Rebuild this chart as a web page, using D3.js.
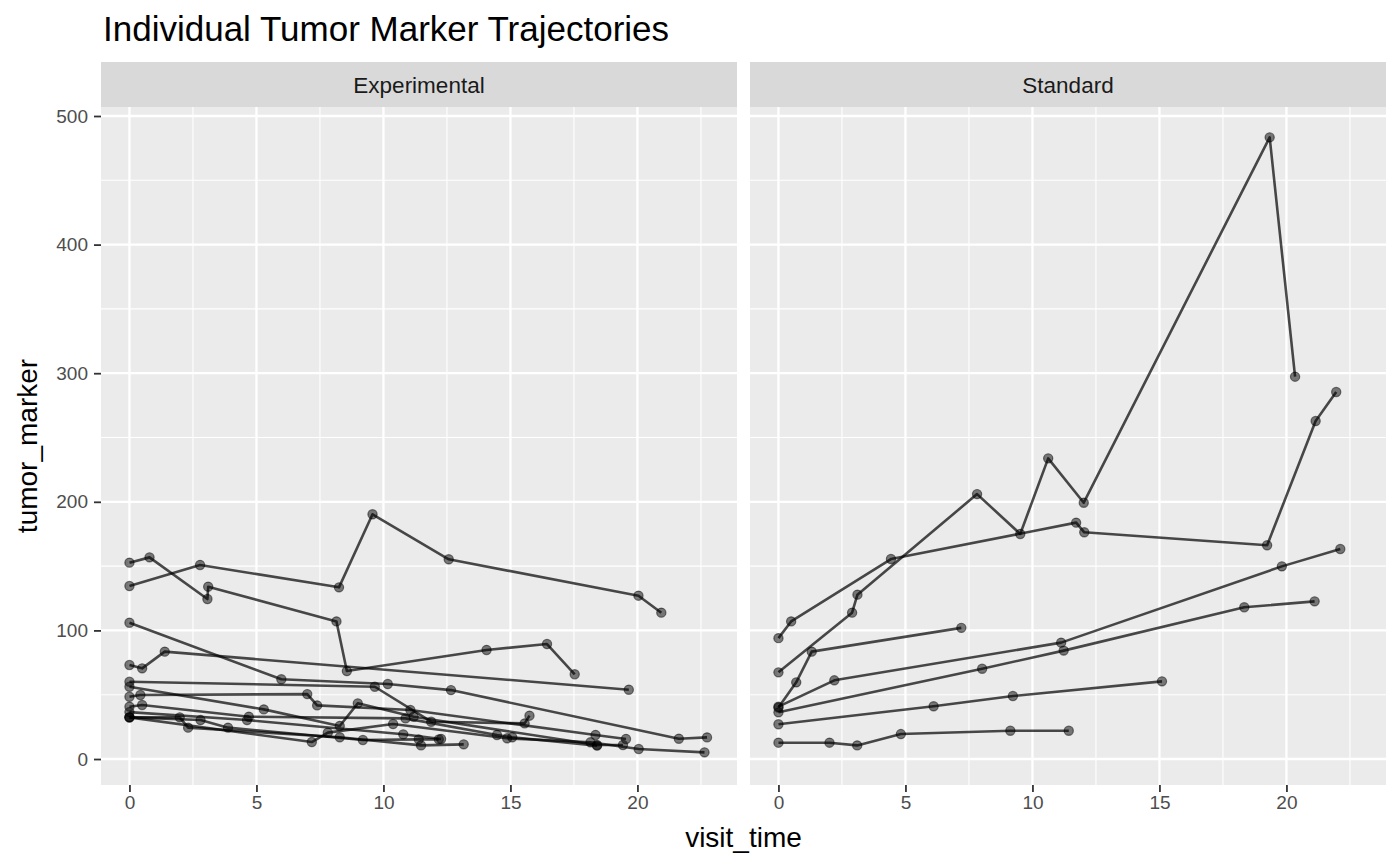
<!DOCTYPE html>
<html>
<head>
<meta charset="utf-8">
<script src="https://cdn.jsdelivr.net/npm/d3@7"></script>
<style>
  html, body { margin: 0; padding: 0; background: #ffffff; }
  svg text { font-family: "Liberation Sans", Arial, Helvetica, sans-serif; }
</style>
</head>
<body>
<svg id="chart" width="1400" height="866"></svg>
<script>
// ---------------- data ----------------
const title = "Individual Tumor Marker Trajectories";
const panels = ["Experimental", "Standard"];
const xTicks = [0, 5, 10, 15, 20];
const yTicks = [0, 100, 200, 300, 400, 500];
const xLabel = "visit_time";
const yLabel = "tumor_marker";

// Experimental arm: visit times and marker values per subject
const expTime = [
  [0, 2.78, 8.25, 9.57, 12.57, 20.04, 20.94],
  [0, 0.79, 3.07, 3.1, 8.15, 8.56, 14.06, 16.44, 17.53],
  [0, 5.98, 10.17, 12.66, 21.63, 22.74],
  [0, 0.5, 1.39, 19.66],
  [0, 9.66, 11.88, 15.56, 15.75],
  [0, 0.43, 7.0, 7.39, 11.06, 18.35, 19.55],
  [0, 5.29, 8.28, 8.99, 11.19, 18.41, 19.43],
  [0, 7.18, 7.81, 10.38, 14.87, 18.15, 20.05, 22.64],
  [0, 0.5, 4.7, 10.87, 14.47, 15.07, 18.41],
  [0, 1.98, 2.31, 8.28, 11.48, 13.16],
  [0, 2.8, 3.88, 9.19, 11.39, 12.18],
  [0, 4.63, 10.78, 12.27]
];
const expMarker = [
  [134.5, 150.9, 133.5, 190.3, 155.3, 127, 113.8],
  [152.7, 156.8, 124.4, 134, 107, 68.4, 84.8, 89.4, 65.9],
  [106, 62, 58.3, 53.6, 15.8, 16.8],
  [73.1, 70.5, 83.5, 53.9],
  [60.1, 56.2, 29, 27.7, 33.7],
  [48.4, 49.8, 50.5, 41.7, 38.1, 18.7, 15.6],
  [56.2, 38.6, 25.7, 43.3, 32.9, 10.9, 10.9],
  [32.4, 13.2, 20.5, 27.2, 16.1, 13, 7.8, 5.2],
  [40.7, 42, 32.9, 31.6, 18.7, 16.9, 10.4],
  [32.4, 32.4, 24.4, 16.9, 10.6, 11.4],
  [32.4, 30.3, 24.4, 14.8, 15.3, 15.3],
  [36.5, 30.3, 19.2, 15.6]
];

// Standard arm
const stdTime = [
  [0, 2.01, 3.1, 4.82, 9.13, 11.43],
  [0, 6.11, 9.23, 15.1],
  [0, 2.2, 11.13, 19.82, 22.12],
  [0, 8.02, 11.23, 18.34, 21.11],
  [0, 0.7, 1.31, 7.2],
  [0, 2.9, 3.11, 7.82, 9.52, 10.62, 12.02, 19.34, 20.34],
  [0, 0.5, 4.43, 11.72, 12.04, 19.24, 21.15, 21.96]
];
const stdMarker = [
  [12.7, 12.7, 10.6, 19.4, 22, 22],
  [27, 41, 49, 60.4],
  [40.7, 61.2, 90.5, 149.8, 163.3],
  [36.3, 70.2, 84.3, 118, 122.6],
  [40, 59.6, 83.5, 102],
  [67.4, 113.8, 127.8, 206, 175, 233.8, 199.3, 483.4, 297.3],
  [94, 107, 155.5, 183.8, 176.3, 166.2, 262.8, 285.4]
];

// ---------------- layout ----------------
const svg = d3.select("#chart");
const panelX = [101, 750];
const panelW = 636;
const panelTop = 107, panelBottom = 785;
const stripTop = 62;

const y = d3.scaleLinear().domain([-20.2, 507]).range([panelBottom, panelTop]);
const xDomain = [-1.12, 23.92];

const arms = [
  {name: panels[0], time: expTime, marker: expMarker},
  {name: panels[1], time: stdTime, marker: stdMarker}
];

svg.append("rect").attr("width", 1400).attr("height", 866).attr("fill", "#ffffff");

// title
svg.append("text").attr("x", 103).attr("y", 41)
  .attr("font-size", 35).attr("fill", "#000000").text(title);

const yMinor = [50, 150, 250, 350, 450];
const xMinor = [2.5, 7.5, 12.5, 17.5, 22.5];

arms.forEach((arm, i) => {
  const x0 = panelX[i];
  const x = d3.scaleLinear().domain(xDomain).range([x0, x0 + panelW]);
  const g = svg.append("g");

  // strip
  g.append("rect").attr("x", x0).attr("y", stripTop).attr("width", panelW)
    .attr("height", panelTop - stripTop).attr("fill", "#D9D9D9");
  g.append("text").attr("x", x0 + panelW / 2).attr("y", 92.5)
    .attr("text-anchor", "middle").attr("font-size", 22.5).attr("fill", "#1A1A1A")
    .text(arm.name);

  // panel background
  g.append("rect").attr("x", x0).attr("y", panelTop).attr("width", panelW)
    .attr("height", panelBottom - panelTop).attr("fill", "#EBEBEB");

  // minor grid
  g.selectAll(".ymin").data(yMinor).enter().append("line")
    .attr("x1", x0).attr("x2", x0 + panelW)
    .attr("y1", d => y(d)).attr("y2", d => y(d))
    .attr("stroke", "#ffffff").attr("stroke-width", 1.1);
  g.selectAll(".xmin").data(xMinor).enter().append("line")
    .attr("y1", panelTop).attr("y2", panelBottom)
    .attr("x1", d => x(d)).attr("x2", d => x(d))
    .attr("stroke", "#ffffff").attr("stroke-width", 1.1);
  // major grid
  g.selectAll(".ymaj").data(yTicks).enter().append("line")
    .attr("x1", x0).attr("x2", x0 + panelW)
    .attr("y1", d => y(d)).attr("y2", d => y(d))
    .attr("stroke", "#ffffff").attr("stroke-width", 2.3);
  g.selectAll(".xmaj").data(xTicks).enter().append("line")
    .attr("y1", panelTop).attr("y2", panelBottom)
    .attr("x1", d => x(d)).attr("x2", d => x(d))
    .attr("stroke", "#ffffff").attr("stroke-width", 2.3);

  // x axis
  const xAxis = d3.axisBottom(x).tickValues(xTicks).tickSize(7).tickPadding(4)
    .tickFormat(d3.format("d"));
  const xa = svg.append("g").attr("transform", `translate(0,${panelBottom})`).call(xAxis);
  xa.select(".domain").remove();
  xa.selectAll("line").attr("stroke", "#333333").attr("stroke-width", 1.8);
  xa.selectAll("text").attr("font-size", 19).attr("fill", "#4D4D4D")
    .attr("font-family", "Liberation Sans, Arial, sans-serif");

  // lines
  const line = d3.line().x(d => x(d[0])).y(d => y(d[1]));
  const series = arm.time.map((ts, k) => ts.map((t, j) => [t, arm.marker[k][j]]));
  const clipId = "clip" + i;
  svg.append("clipPath").attr("id", clipId).append("rect")
    .attr("x", x0).attr("y", panelTop).attr("width", panelW).attr("height", panelBottom - panelTop);
  const dg = svg.append("g").attr("clip-path", `url(#${clipId})`);
  dg.selectAll(".traj").data(series).enter().append("path")
    .attr("d", line).attr("fill", "none")
    .attr("stroke", "rgba(0,0,0,0.7)").attr("stroke-width", 2.6)
    .attr("stroke-linejoin", "round");
  dg.selectAll(".pt").data(series.flat()).enter().append("circle")
    .attr("cx", d => x(d[0])).attr("cy", d => y(d[1])).attr("r", 4.6)
    .attr("fill", "rgba(0,0,0,0.5)").attr("stroke", "rgba(0,0,0,0.5)").attr("stroke-width", 1.2);
});

// y axis (left panel only)
const yAxis = d3.axisLeft(y).tickValues(yTicks).tickSize(7).tickPadding(6);
const ya = svg.append("g").attr("transform", `translate(${panelX[0]},0)`).call(yAxis);
ya.select(".domain").remove();
ya.selectAll("line").attr("stroke", "#333333").attr("stroke-width", 1.8);
ya.selectAll("text").attr("font-size", 19).attr("fill", "#4D4D4D")
  .attr("font-family", "Liberation Sans, Arial, sans-serif");

// axis titles
svg.append("text").attr("x", (panelX[0] + panelX[1] + panelW) / 2).attr("y", 847)
  .attr("text-anchor", "middle").attr("font-size", 28).attr("fill", "#000000").text(xLabel);
svg.append("text")
  .attr("transform", `translate(37,${(panelTop + panelBottom) / 2}) rotate(-90)`)
  .attr("text-anchor", "middle").attr("font-size", 28).attr("fill", "#000000").text(yLabel);
</script>
</body>
</html>
